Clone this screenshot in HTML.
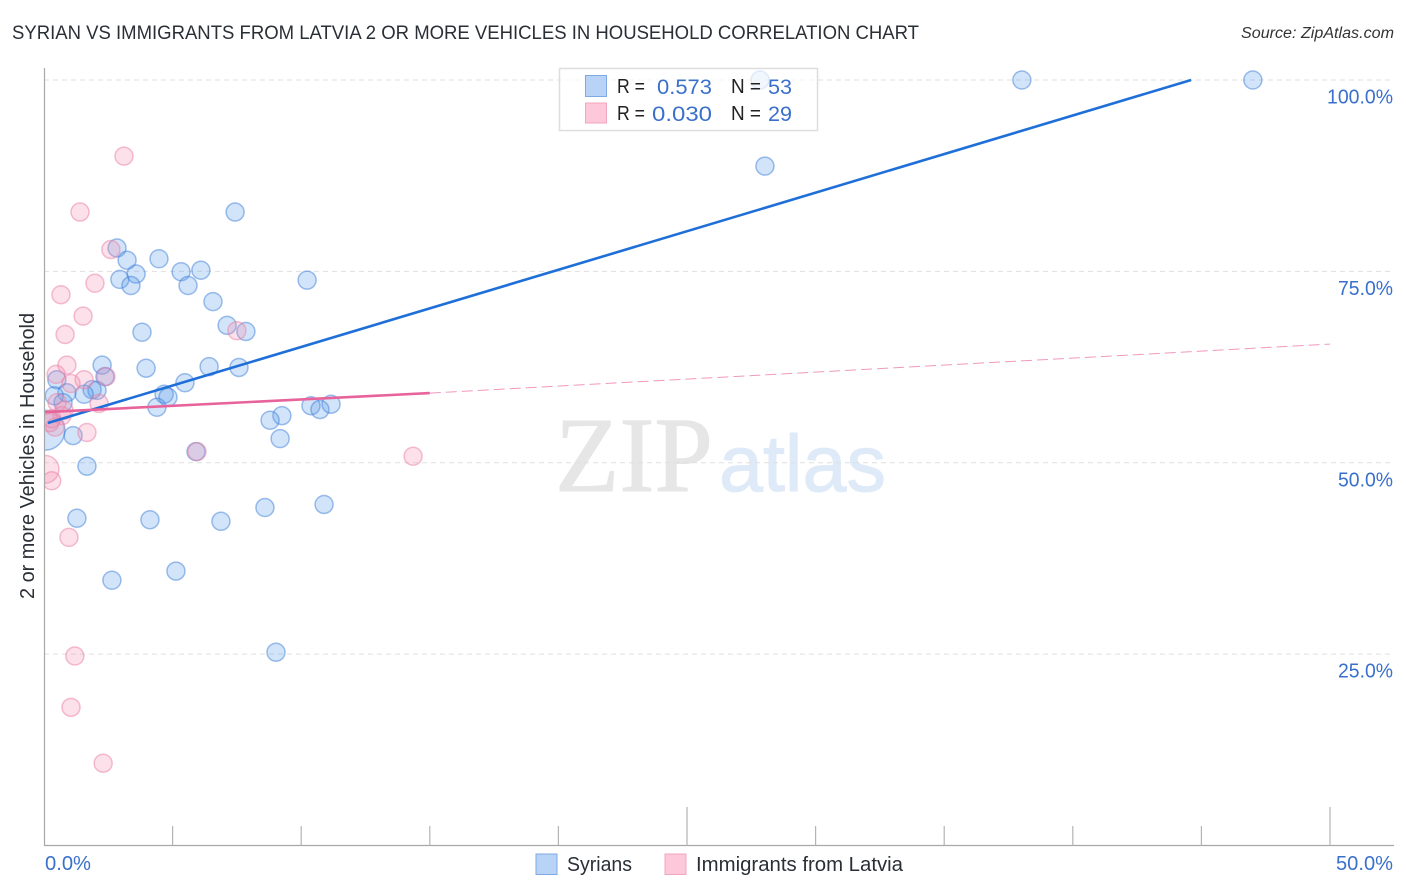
<!DOCTYPE html>
<html lang="en">
<head>
<meta charset="utf-8">
<title>Syrian vs Immigrants from Latvia correlation chart</title>
<style>
html,body{margin:0;padding:0;background:#fff;}
body{width:1406px;height:892px;overflow:hidden;}
svg{display:block;font-family:"Liberation Sans",sans-serif;}
</style>
</head>
<body>
<svg id="chart" xmlns="http://www.w3.org/2000/svg" width="1406" height="892" viewBox="0 0 1406 892">
  <defs>
    <clipPath id="plot-clip"><rect x="44" y="60" width="1350" height="786"/></clipPath>
  </defs>
  <text x="12" y="39" font-size="19" fill="#2a2f36" textLength="907" lengthAdjust="spacingAndGlyphs">SYRIAN VS IMMIGRANTS FROM LATVIA 2 OR MORE VEHICLES IN HOUSEHOLD CORRELATION CHART</text>
  <text x="1241" y="38" font-size="15.5" font-style="italic" fill="#333" textLength="153" lengthAdjust="spacingAndGlyphs">Source: ZipAtlas.com</text>
  <g>
    <text x="555" y="491" font-family="'Liberation Serif',serif" font-size="107" fill="#e6e6e6" stroke="#e6e6e6" stroke-width="1" textLength="158" lengthAdjust="spacingAndGlyphs">ZIP</text>
    <text x="719" y="491" font-size="80" fill="#deeaf8" stroke="#deeaf8" stroke-width="1" textLength="167" lengthAdjust="spacingAndGlyphs">atlas</text>
  </g>
  <g id="grid"></g>
  <g id="points" clip-path="url(#plot-clip)"></g>
  <g id="trends"></g>
  <g id="axes"></g>
  <text transform="translate(34,456) rotate(-90)" text-anchor="middle" font-size="20" fill="#2a2f36" textLength="286" lengthAdjust="spacingAndGlyphs">2 or more Vehicles in Household</text>

  <g>
    <rect x="559.5" y="68.5" width="258" height="62" fill="#fff" fill-opacity="0.7" stroke="#dedede" stroke-width="1.5"/>
    <rect x="585.5" y="75.5" width="21" height="21" fill="#b9d3f6" stroke="#7fa9e2" stroke-width="1"/>
    <rect x="585.5" y="103" width="21" height="20" fill="#fdc8da" stroke="#f0a6c0" stroke-width="1"/>
    <g font-size="20" fill="#222">
      <text x="617" y="93" textLength="28" lengthAdjust="spacingAndGlyphs">R =</text>
      <text x="731" y="93" textLength="30" lengthAdjust="spacingAndGlyphs">N =</text>
      <text x="617" y="120" textLength="28" lengthAdjust="spacingAndGlyphs">R =</text>
      <text x="731" y="120" textLength="30" lengthAdjust="spacingAndGlyphs">N =</text>
    </g>
    <g font-size="21.5" fill="#3a70cc">
      <text x="657" y="94" textLength="55" lengthAdjust="spacingAndGlyphs">0.573</text>
      <text x="768" y="94" textLength="24" lengthAdjust="spacingAndGlyphs">53</text>
      <text x="652" y="121" textLength="60" lengthAdjust="spacingAndGlyphs">0.030</text>
      <text x="768" y="121" textLength="24" lengthAdjust="spacingAndGlyphs">29</text>
    </g>
  </g>

  <g>
    <rect x="536" y="854" width="21" height="20.5" fill="#b9d3f6" stroke="#7fa9e2" stroke-width="1"/>
    <text x="567" y="871" font-size="20" fill="#2a2f36" textLength="65" lengthAdjust="spacingAndGlyphs">Syrians</text>
    <rect x="665" y="854" width="21" height="20.5" fill="#fdc8da" stroke="#f0a6c0" stroke-width="1"/>
    <text x="696" y="871" font-size="20" fill="#2a2f36" textLength="207" lengthAdjust="spacingAndGlyphs">Immigrants from Latvia</text>
  </g>
</svg>
<script>
var xTickValues = [0, 5, 10, 15, 20, 25, 30, 35, 40, 45, 50];
var xMajorTicks = [25, 50];
var xTickLabels = ['0.0%', '50.0%'];
var xLabelValues = [0, 50];
var yTickValues = [100, 75, 50, 25];
var yTickLabels = ['100.0%', '75.0%', '50.0%', '25.0%'];

var syrianX = [27.84, 38.02, 47.0, 28.03, 7.43, 2.84, 3.23, 4.47, 2.95, 3.58, 3.38, 5.33, 6.1, 5.6, 10.23, 6.57, 7.12, 7.85, 3.81, 3.97, 6.42, 7.58, 2.26, 2.37, 0.5, 5.48, 1.87, 2.06, 1.56, 0.89, 0.4, 0.74, 4.67, 4.82, 4.39, 10.38, 10.73, 11.16, 9.25, 8.79, 9.18, 1.13, 0.04, 5.91, 1.67, 1.28, 4.12, 6.88, 8.59, 10.89, 2.64, 5.13, 9.02];
var syrianY = [100, 100, 100, 88.75, 82.75, 78.05, 76.45, 76.65, 73.95, 74.65, 73.15, 74.95, 75.15, 73.15, 73.85, 71.05, 67.95, 67.15, 67.05, 62.35, 62.55, 62.45, 62.75, 61.25, 60.85, 60.45, 59.55, 59.45, 58.95, 59.15, 58.75, 57.85, 58.95, 58.55, 57.25, 57.45, 56.95, 57.65, 56.15, 55.55, 53.15, 53.55, 54.25, 51.45, 49.55, 42.75, 42.55, 42.35, 44.15, 44.55, 34.65, 35.85, 25.25];
var syrianWeight = [1, 1, 1, 1, 1, 1, 1, 1, 1, 1, 1, 1, 1, 1, 1, 1, 1, 1, 1, 1, 1, 1, 1, 1, 1, 1, 1, 1, 1, 1, 1, 1, 1, 1, 1, 1, 1, 1, 1, 1, 1, 1, 4.9, 1, 1, 1, 1, 1, 1, 1, 1, 1, 1];

var latviaX = [3.11, 1.4, 2.6, 1.98, 0.66, 1.52, 0.82, 7.5, 0.89, 0.47, 1.56, 1.05, 2.41, 2.14, 5.95, 1.67, 14.35, 0.51, 0.7, 0.43, 0.23, 0.78, 0.04, 0.3, 0.97, 1.2, 1.05, 2.3, 0.3];
var latviaY = [90.05, 82.75, 77.85, 73.45, 71.95, 69.15, 66.75, 67.25, 62.75, 61.55, 60.85, 60.35, 61.25, 57.75, 51.45, 53.95, 50.85, 57.85, 56.15, 54.65, 55.25, 56.85, 49.15, 47.65, 40.25, 24.75, 18.05, 10.75, 55.75];
var latviaWeight = [1, 1, 1, 1, 1, 1, 1, 1, 1, 1, 1, 1, 1, 1, 1, 1, 1, 1, 1, 1, 1, 1, 2.4, 1, 1, 1, 1, 1, 1];

var syrianTrendX = [0.15, 44.6];
var syrianTrendY = [55.2, 100];
var latviaSolidX = [0, 15];
var latviaSolidY = [56.6, 59.1];
var latviaDashX = [15, 50];
var latviaDashY = [59.1, 65.5];

var NS = 'http://www.w3.org/2000/svg';
function xScale(v) { return 44 + v * 25.72; }
function yScale(v) { return 845.5 - v * 7.655; }
function rScale(w) { return 9 * Math.sqrt(w); }
function mk(parent, tag, attrs) {
  var el = document.createElementNS(NS, tag);
  for (var k in attrs) el.setAttribute(k, attrs[k]);
  parent.appendChild(el);
  return el;
}

var grid = document.getElementById('grid');
var pointsG = document.getElementById('points');
var trends = document.getElementById('trends');
var axes = document.getElementById('axes');

yTickValues.forEach(function (v, i) {
  var line = mk(grid, 'line', { x1: 44, x2: 1394, y1: yScale(v), y2: yScale(v), stroke: '#dfdfdf', 'stroke-width': 1, 'stroke-dasharray': '5 4' });
  
  
  var label = mk(axes, 'text', { x: 1393, y: yScale(v) + 23.5, 'text-anchor': 'end', 'font-size': 20, fill: '#3a70cc', textLength: i === 0 ? 66 : 55, lengthAdjust: 'spacingAndGlyphs' });
  label.textContent = yTickLabels[i];
  
  
});

function drawSeries(xs, ys, ws, fill, stroke, name) {
  xs.forEach(function (x, i) {
    var c = mk(pointsG, 'circle', { cx: xScale(x), cy: yScale(ys[i]), r: rScale(ws[i]), fill: fill, 'fill-opacity': 0.27, stroke: stroke, 'stroke-opacity': 0.5, 'stroke-width': 1.5 });
    
    
  });
}
drawSeries(syrianX, syrianY, syrianWeight, '#5a9bea', '#3f80d8', 'syrian-point');
drawSeries(latviaX, latviaY, latviaWeight, '#f58bb0', '#ea7fa6', 'latvia-point');

var blueLine = mk(trends, 'line', { x1: xScale(syrianTrendX[0]), y1: yScale(syrianTrendY[0]), x2: xScale(syrianTrendX[1]), y2: yScale(syrianTrendY[1]), stroke: '#1f6fd8', 'stroke-width': 2.6 });


var pinkLine = mk(trends, 'line', { x1: xScale(latviaSolidX[0]), y1: yScale(latviaSolidY[0]), x2: xScale(latviaSolidX[1]), y2: yScale(latviaSolidY[1]), stroke: '#e8639b', 'stroke-width': 2.6 });


var pinkDash = mk(trends, 'line', { x1: xScale(latviaDashX[0]), y1: yScale(latviaDashY[0]), x2: xScale(latviaDashX[1]), y2: yScale(latviaDashY[1]), stroke: '#e8639b', 'stroke-opacity': 0.65, 'stroke-width': 1, 'stroke-dasharray': '11 5' });



var yAxisLine = mk(axes, 'line', { x1: 44.5, x2: 44.5, y1: 68, y2: 846, stroke: '#a8a8a8', 'stroke-width': 1.2 });


var xAxisLine = mk(axes, 'line', { x1: 44, x2: 1394, y1: 845.5, y2: 845.5, stroke: '#a8a8a8', 'stroke-width': 1.2 });



xTickValues.forEach(function (v) {
  if (v === 0) return;
  var top = xMajorTicks.indexOf(v) >= 0 ? 807 : 826;
  var t = mk(axes, 'line', { x1: xScale(v), x2: xScale(v), y1: top, y2: 845.5, stroke: '#b4b4b4', 'stroke-width': 1.2 });
  
  
});
xLabelValues.forEach(function (v, i) {
  var px = i === 0 ? xScale(v) + 1 : 1393;
  var label = mk(axes, 'text', { x: px, y: 870, 'text-anchor': i === 0 ? 'start' : 'end', 'font-size': 20, fill: '#3a70cc', textLength: i === 0 ? 46 : 57, lengthAdjust: 'spacingAndGlyphs' });
  label.textContent = xTickLabels[i];
  
  
});
</script>
</body>
</html>
